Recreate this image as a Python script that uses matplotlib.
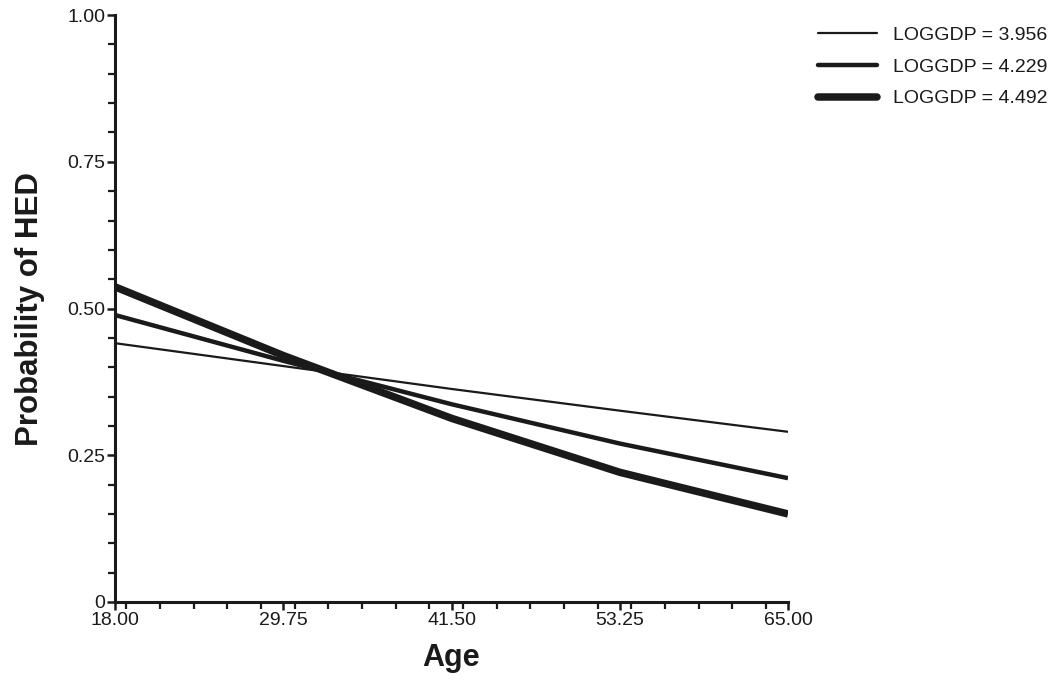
import matplotlib
matplotlib.use("Agg")
import matplotlib.pyplot as plt
from matplotlib.ticker import FixedLocator, MultipleLocator

plt.rcParams['font.family'] = ['Liberation Sans', 'DejaVu Sans']

# values at the major x ticks
age = [18.00, 29.75, 41.50, 53.25, 65.00]
p_3956 = [0.441, 0.402, 0.363, 0.326, 0.290]
p_4229 = [0.489, 0.411, 0.337, 0.270, 0.211]
p_4492 = [0.537, 0.420, 0.313, 0.221, 0.150]
labels = ["LOGGDP = 3.956", "LOGGDP = 4.229", "LOGGDP = 4.492"]

ink = "#1a1a1a"

fig = plt.figure(figsize=(10.5, 6.84), dpi=100)
ax = fig.add_axes([0.1095, 0.1199, 0.641, 0.858])

ax.plot(age, p_3956, color=ink, lw=1.6, label=labels[0], solid_capstyle='butt')
ax.plot(age, p_4229, color=ink, lw=3.2, label=labels[1], solid_capstyle='butt')
ax.plot(age, p_4492, color=ink, lw=5.4, label=labels[2], solid_capstyle='butt')

ax.set_xlim(18, 65)
ax.set_ylim(0, 1)

ax.xaxis.set_major_locator(FixedLocator(age))
ax.set_xticklabels(["%.2f" % a for a in age])
ax.xaxis.set_minor_locator(MultipleLocator(2.35))
ax.yaxis.set_major_locator(FixedLocator([0, 0.25, 0.5, 0.75, 1.0]))
ax.set_yticklabels(["0", "0.25", "0.50", "0.75", "1.00"])
ax.yaxis.set_minor_locator(MultipleLocator(0.05))

for s in ["top", "right"]:
    ax.spines[s].set_visible(False)
for s in ["left", "bottom"]:
    ax.spines[s].set_linewidth(2.2)
    ax.spines[s].set_color(ink)
    ax.spines[s].set_capstyle('projecting')

ax.tick_params(which='major', length=6, width=1.8, color=ink, labelsize=14,
               pad=1, labelcolor=ink)
ax.tick_params(which='minor', length=5, width=1.6, color=ink)

ax.set_xlabel("Age", fontsize=22, fontweight='bold', labelpad=10, color=ink)
ax.set_ylabel("Probability of HED", fontsize=22.5, fontweight='bold', labelpad=16,
              color=ink)

leg = fig.legend(*ax.get_legend_handles_labels(), loc='upper left',
                 bbox_to_anchor=(0.772, 0.9725), frameon=False,
                 fontsize=14, handlelength=3.0, handletextpad=0.85,
                 labelspacing=0.72, borderaxespad=0.0)
for t in leg.get_texts():
    t.set_color(ink)
for h in leg.get_lines():
    h.set_solid_capstyle('round')

fig.savefig("out.png", dpi=100)
